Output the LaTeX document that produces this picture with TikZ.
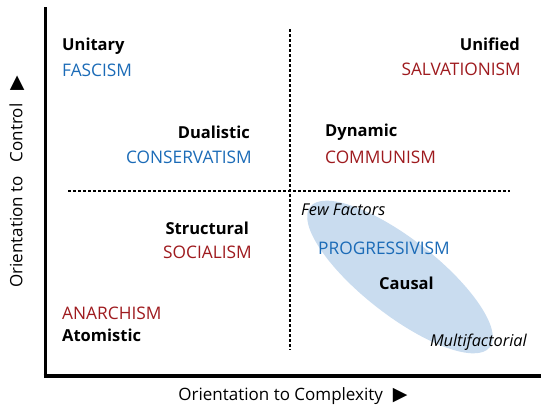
\documentclass[tikz,border=0pt]{standalone}
\usepackage{fontspec}
\setmainfont{Open Sans}
\newfontfamily\symfont{DejaVu Sans}
\usepackage{xcolor}
\usetikzlibrary{positioning,calc,shapes.geometric}

\definecolor{ideoblue}{HTML}{1B6BB7}
\definecolor{ideored}{HTML}{9E1A1E}
\definecolor{blobfill}{HTML}{C9DCEF}

\begin{document}
\begin{tikzpicture}[x=1pt,y=-1pt,
    axis/.style={line width=3.6pt},
    grid/.style={line width=1.1pt,dash pattern=on 3pt off 2pt},
    kind/.style={font=\fontsize{16.5}{16}\selectfont\bfseries,inner sep=0pt},
    ism/.style={font=\fontsize{17.3}{17}\selectfont,inner sep=0pt},
    note/.style={font=\fontsize{16.3}{16}\selectfont\itshape,inner sep=0pt},
    axlabel/.style={font=\fontsize{17}{17}\selectfont,inner sep=0pt}]
  \useasboundingbox (0,0) rectangle (542,416);

  % shaded band
  \node[ellipse,fill=blobfill,minimum width=228pt,minimum height=76pt,
        inner sep=0pt,rotate=-38] (band) at (400,277) {};

  % axes
  \coordinate (ytop) at (45.5,7);
  \coordinate (origin) at (45.5,376);
  \coordinate (xend) at (541,376);
  \draw[axis] (ytop) -- ($(origin)+(0,1.8)$);
  \draw[axis] ($(origin)+(-1.8,0)$) -- (xend);

  % quadrant lines
  \coordinate (vtop) at (290,29);
  \coordinate (vbot) at (290,350);
  \coordinate (hleft) at (68,191);
  \coordinate (hright) at (510,191);
  \draw[grid] (vtop) -- (vbot);
  \draw[grid] (hleft) -- (hright);

  % upper left
  \node[kind,anchor=west] (unitary) at (62,46) {Unitary};
  \node[ism,anchor=west,text=ideoblue] (fascism) at (62,70) {FASCISM};
  \node[kind,anchor=east] (dualistic) at (250,132) {Dualistic};
  \node[ism,anchor=east,text=ideoblue] (conserv) at (252,157) {CONSERVATISM};

  % upper right
  \node[kind,anchor=east] (unified) at (520,44) {Unified};
  \node[ism,anchor=east,text=ideored] (salv) at (521,69) {SALVATIONISM};
  \node[kind,anchor=west] (dynamic) at (325,132) {Dynamic};
  \node[ism,anchor=west,text=ideored] (commun) at (325,157) {COMMUNISM};

  % lower left
  \node[kind,anchor=east] (structural) at (249,228) {Structural};
  \node[ism,anchor=east,text=ideored] (social) at (252,252) {SOCIALISM};
  \node[ism,anchor=west,text=ideored] (anarch) at (62,313) {ANARCHISM};
  \node[kind,anchor=west] (atomistic) at (62,335) {Atomistic};

  % lower right
  \node[note,anchor=west] (few) at (301,210) {Few Factors};
  \node[ism,anchor=west,text=ideoblue] (progress) at (318,248) {PROGRESSIVISM};
  \node[kind,anchor=west] (causal) at (379,283) {Causal};
  \node[note,anchor=east] (multi) at (527,342) {Multifactorial};

  % axis titles
  \node[axlabel] (xlabel) at (293,396) {Orientation to Complexity\hspace{10pt}{\symfont\fontsize{19}{19}\selectfont ▶}};
  \node[axlabel,rotate=90] (ylabel) at (17,182) {Orientation to\hspace{14pt}Control\hspace{13pt}{\symfont\fontsize{19}{19}\selectfont ▶}};
\end{tikzpicture}
\end{document}
